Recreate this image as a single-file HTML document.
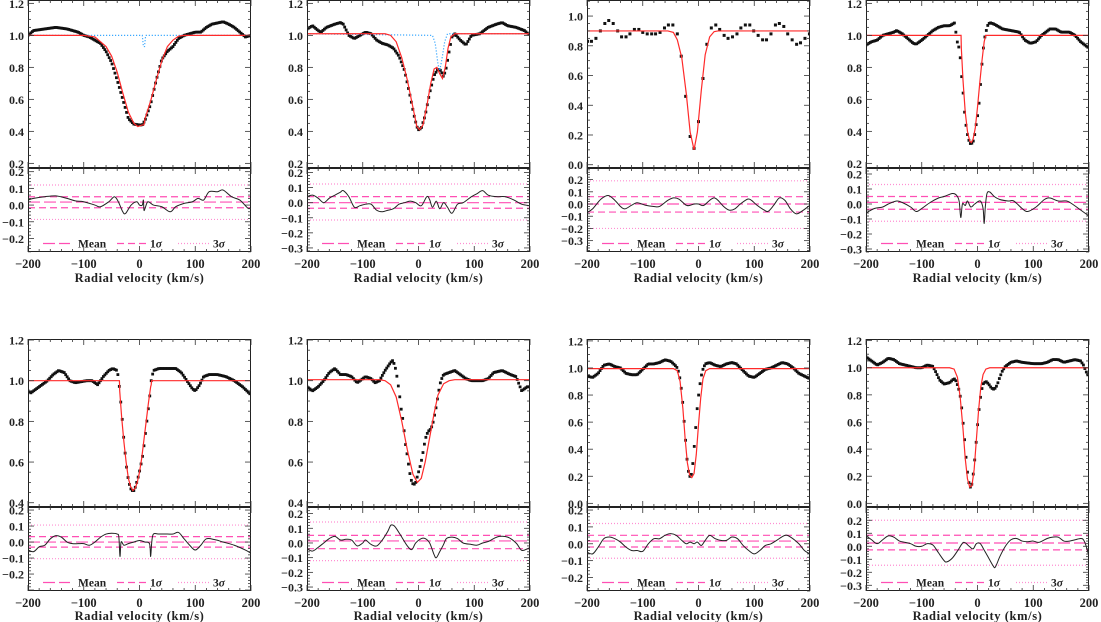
<!DOCTYPE html>
<html><head><meta charset="utf-8">
<style>
html,body{margin:0;padding:0;background:#fff;}
svg{display:block;font-family:"Liberation Serif",serif;}
svg text{font-weight:bold;}
</style></head>
<body>
<svg id="fig" width="1101" height="622" viewBox="0 0 1101 622" xmlns="http://www.w3.org/2000/svg"></svg>
<script>
// ---------- DATA ----------
const xTicks = [-200,-100,0,100,200];
const xTickLabels = ["\u2212200","\u2212100","0","100","200"];

// Panel 1
const p1Obs = [[-200,1.0],[-190,1.03],[-170,1.04],[-150,1.05],[-130,1.04],[-110,1.02],[-100,1.0],[-90,0.99],[-80,0.97],[-70,0.95],[-60,0.90],[-50,0.83],[-40,0.72],[-30,0.60],[-20,0.48],[-10,0.445],[0,0.44],[5,0.44],[10,0.47],[20,0.57],[30,0.72],[40,0.85],[50,0.90],[60,0.93],[70,0.98],[80,1.0],[100,1.02],[110,1.02],[120,1.05],[130,1.07],[150,1.085],[160,1.07],[170,1.05],[180,1.02],[190,0.99],[200,1.0]];
const p1Fit = [[-200,1.0],[-100,1.0],[-80,0.99],[-60,0.93],[-50,0.87],[-40,0.77],[-30,0.64],[-20,0.52],[-10,0.45],[-3,0.43],[5,0.44],[8,0.44],[10,0.48],[20,0.59],[30,0.72],[40,0.84],[50,0.93],[60,0.97],[70,0.995],[80,1.0],[200,1.0]];
const p1Comp = [[-200,1.0],[5,1.0],[7,0.93],[9,0.93],[11,1.0],[200,1.0]];
const p1Res = [[-200,0.03],[-190,0.04],[-170,0.05],[-150,0.055],[-130,0.04],[-115,0.025],[-100,0.02],[-80,0.0],[-70,-0.01],[-55,0.02],[-45,0.05],[-38,0.02],[-30,-0.04],[-25,-0.05],[-15,0.0],[-5,0.02],[0,0.0],[5,0.0],[7,0.03],[8,-0.03],[10,-0.02],[15,0.02],[25,0.0],[40,-0.01],[55,-0.04],[65,-0.01],[80,0.01],[95,0.02],[105,0.04],[115,0.03],[125,0.08],[140,0.08],[150,0.09],[165,0.05],[180,0.03],[195,-0.02],[200,-0.01]];
const p1Stats = [0.018,0.05,-0.016,0.12,-0.086]; // mean, +1s, -1s, +3s, -3s

// Panel 2
const p2Obs = [[-200,1.04],[-190,1.06],[-180,1.03],[-175,1.02],[-165,1.05],[-150,1.07],[-140,1.08],[-135,1.07],[-125,1.0],[-115,0.98],[-105,1.0],[-95,1.02],[-85,1.01],[-75,0.97],[-65,0.95],[-55,0.94],[-45,0.92],[-35,0.87],[-25,0.78],[-15,0.62],[-8,0.50],[-3,0.43],[0,0.41],[5,0.42],[12,0.50],[20,0.64],[28,0.75],[35,0.79],[40,0.78],[45,0.74],[50,0.80],[55,0.90],[60,0.99],[65,1.01],[75,0.97],[85,0.94],[95,1.0],[110,1.01],[125,1.05],[140,1.07],[150,1.08],[160,1.06],[175,1.05],[190,1.03],[200,1.0]];
const p2Fit = [[-200,1.01],[-60,1.01],[-50,1.0],[-40,0.96],[-30,0.86],[-20,0.72],[-10,0.55],[-3,0.43],[2,0.41],[8,0.44],[15,0.56],[22,0.70],[28,0.79],[33,0.80],[38,0.76],[43,0.73],[48,0.80],[53,0.92],[58,0.99],[65,1.01],[200,1.01]];
const p2Comp = [[-200,1.01],[25,1.0],[30,0.95],[35,0.82],[38,0.78],[42,0.85],[47,0.96],[52,1.01],[200,1.01]];
const p2Res = [[-200,0.04],[-190,0.05],[-180,0.03],[-170,0.0],[-160,0.03],[-150,0.05],[-140,0.07],[-135,0.08],[-125,0.04],[-115,-0.03],[-105,-0.02],[-95,-0.01],[-85,-0.01],[-75,-0.05],[-65,-0.06],[-55,-0.05],[-45,-0.04],[-35,-0.01],[-25,0.0],[-15,0.01],[-5,0.0],[5,-0.02],[15,0.04],[20,0.02],[25,-0.03],[32,0.01],[38,-0.04],[45,0.0],[52,-0.03],[60,-0.07],[70,-0.01],[80,0.0],[95,0.04],[105,0.06],[115,0.08],[125,0.05],[140,0.04],[155,0.04],[170,0.02],[185,-0.01],[200,-0.02]];
const p2Stats = [0.0,0.04,-0.037,0.124,-0.115];

// Panel 3 (sparse sampling)
const p3ObsV = [-199,-192,-184,-176,-168,-161,-153,-145,-138,-130,-123,-115,-107,-100,-92,-84,-77,-69,-61,-54,-46,-38,-31,-23,-15,-8,0,8,15,23,31,38,46,53,61,69,76,84,92,99,107,115,122,130,138,145,153,160,168,176,183,191,199];
const p3ObsF = [0.83,0.83,0.85,0.90,0.95,0.97,0.95,0.90,0.86,0.86,0.88,0.91,0.91,0.89,0.88,0.88,0.88,0.89,0.92,0.94,0.94,0.88,0.73,0.46,0.19,0.11,0.29,0.58,0.81,0.92,0.94,0.91,0.87,0.85,0.86,0.88,0.92,0.94,0.94,0.90,0.87,0.84,0.84,0.88,0.94,0.95,0.93,0.88,0.84,0.81,0.82,0.85,0.88];
const p3Fit = [[-200,0.9],[-55,0.9],[-45,0.89],[-38,0.84],[-30,0.72],[-22,0.48],[-15,0.22],[-8,0.10],[-2,0.22],[5,0.5],[12,0.74],[20,0.86],[28,0.895],[35,0.9],[200,0.9]];
const p3Res = [[-200,-0.07],[-190,-0.04],[-175,0.04],[-162,0.07],[-150,0.03],[-140,-0.02],[-132,-0.04],[-120,-0.01],[-110,0.01],[-95,-0.01],[-80,-0.02],[-70,-0.02],[-55,0.03],[-45,0.05],[-35,0.04],[-22,-0.01],[-15,-0.01],[-8,0.0],[0,0.0],[5,-0.01],[10,-0.01],[20,0.03],[28,0.05],[35,0.03],[45,-0.02],[55,-0.05],[65,-0.04],[75,0.0],[88,0.04],[95,0.03],[105,-0.01],[118,-0.05],[125,-0.06],[135,-0.01],[145,0.05],[155,0.03],[165,-0.04],[175,-0.08],[185,-0.06],[200,-0.01]];
const p3Stats = [0.0,0.06,-0.066,0.19,-0.2];

// Panel 4
const p4Obs = [[-200,0.94],[-190,0.96],[-180,0.97],[-170,1.0],[-160,1.01],[-150,1.02],[-145,1.03],[-135,1.01],[-125,0.98],[-115,0.95],[-110,0.945],[-100,0.97],[-90,1.0],[-80,1.03],[-70,1.05],[-60,1.06],[-50,1.06],[-45,1.07],[-40,1.08],[-38,0.98],[-33,0.92],[-30,0.83],[-28,0.72],[-25,0.61],[-23,0.51],[-20,0.42],[-17,0.36],[-14,0.33],[-12,0.32],[-9,0.33],[-6,0.35],[-4,0.41],[-1,0.47],[2,0.54],[4,0.63],[6,0.72],[8,0.82],[10,0.90],[12,0.97],[15,1.02],[18,1.06],[22,1.08],[30,1.07],[45,1.04],[60,1.03],[75,1.02],[85,0.97],[95,0.95],[105,0.96],[115,1.0],[130,1.04],[140,1.04],[150,1.02],[165,1.02],[175,1.0],[185,0.96],[200,0.92]];
const p4Fit = [[-200,1.0],[-29.5,1.0],[-29,0.92],[-26,0.72],[-22,0.52],[-18,0.40],[-14,0.34],[-11,0.33],[-8,0.35],[-4,0.42],[0,0.55],[4,0.70],[8,0.84],[12,0.96],[14,0.99],[14.5,1.0],[200,1.0]];
const p4Res = [[-200,-0.06],[-185,-0.03],[-170,-0.02],[-160,0.0],[-145,0.02],[-135,0.01],[-120,-0.02],[-110,-0.05],[-100,-0.03],[-85,0.01],[-70,0.04],[-60,0.05],[-45,0.07],[-38,0.06],[-33,0.02],[-30,-0.09],[-27,0.0],[-22,-0.01],[-18,0.02],[-12,-0.02],[-5,0.0],[5,0.02],[10,-0.03],[12,-0.13],[14,-0.02],[17,0.07],[22,0.08],[30,0.05],[40,0.03],[55,0.02],[65,0.02],[80,-0.03],[90,-0.05],[105,-0.02],[120,0.03],[130,0.04],[145,0.02],[160,0.02],[170,0.0],[185,-0.04],[200,-0.08]];
const p4Stats = [0.011,0.05,-0.035,0.13,-0.115];

// Panel 5
const p5Obs = [[-200,0.95],[-195,0.94],[-185,0.96],[-175,0.98],[-165,1.0],[-155,1.03],[-145,1.05],[-135,1.04],[-125,1.0],[-115,0.99],[-105,0.995],[-95,1.0],[-85,1.0],[-75,0.98],[-65,1.02],[-55,1.05],[-48,1.06],[-40,1.05],[-37,1.0],[-35,0.93],[-33,0.88],[-31,0.81],[-29,0.74],[-27,0.68],[-25,0.62],[-23,0.57],[-21,0.53],[-19,0.50],[-16,0.47],[-13,0.46],[-10,0.46],[-7,0.48],[-4,0.51],[-1,0.54],[2,0.58],[5,0.62],[8,0.68],[11,0.75],[14,0.82],[17,0.89],[19,0.94],[21,1.0],[25,1.05],[35,1.06],[50,1.06],[65,1.06],[75,1.04],[85,1.0],[95,0.96],[100,0.95],[108,0.98],[115,1.02],[125,1.03],[140,1.03],[155,1.02],[170,1.0],[185,0.97],[200,0.93]];
const p5Fit = [[-200,1.0],[-36,1.0],[-35.5,0.95],[-32,0.82],[-28,0.70],[-24,0.60],[-20,0.52],[-16,0.48],[-12,0.46],[-8,0.47],[-4,0.50],[0,0.55],[4,0.62],[8,0.71],[12,0.80],[16,0.89],[20,0.97],[21,0.98],[21.5,1.0],[200,1.0]];
const p5Res = [[-200,-0.05],[-190,-0.06],[-180,-0.03],[-170,-0.02],[-160,0.02],[-150,0.04],[-140,0.03],[-130,0.0],[-120,-0.01],[-110,-0.01],[-100,-0.01],[-90,-0.02],[-80,0.0],[-70,0.03],[-60,0.05],[-50,0.055],[-40,0.05],[-37,0.03],[-35,-0.09],[-33,0.0],[-28,-0.02],[-20,-0.01],[-10,0.0],[0,0.01],[10,0.0],[18,-0.01],[20,-0.09],[22,0.0],[25,0.05],[35,0.05],[50,0.05],[60,0.05],[70,0.06],[80,0.02],[90,-0.02],[100,-0.05],[110,-0.02],[120,0.02],[135,0.015],[150,0.0],[170,-0.02],[190,-0.05],[200,-0.07]];
const p5Stats = [0.0,0.034,-0.032,0.106,-0.104];

// Panel 6
const p6Obs = [[-200,0.97],[-190,0.95],[-180,0.97],[-170,1.0],[-160,1.04],[-150,1.06],[-140,1.03],[-130,1.03],[-120,1.02],[-110,0.99],[-100,1.01],[-95,1.02],[-85,1.01],[-78,0.99],[-70,1.0],[-60,1.05],[-50,1.09],[-46,1.10],[-42,1.07],[-38,1.01],[-34,0.93],[-31,0.86],[-27,0.79],[-24,0.70],[-20,0.63],[-17,0.57],[-14,0.52],[-11,0.495],[-8,0.49],[-5,0.50],[-2,0.53],[1,0.56],[4,0.59],[7,0.63],[10,0.68],[13,0.72],[17,0.75],[21,0.76],[25,0.78],[28,0.82],[31,0.86],[34,0.91],[37,0.96],[40,1.0],[45,1.03],[55,1.04],[65,1.05],[75,1.03],[85,1.01],[95,1.0],[105,1.0],[115,1.0],[125,1.01],[135,1.04],[150,1.05],[165,1.03],[175,1.02],[185,0.95],[195,0.97],[200,0.97]];
const p6Fit = [[-200,1.005],[-70,1.005],[-60,1.0],[-50,0.98],[-40,0.92],[-30,0.80],[-20,0.66],[-10,0.54],[-2,0.50],[5,0.52],[12,0.60],[20,0.72],[28,0.84],[35,0.93],[45,0.985],[55,1.0],[65,1.005],[200,1.005]];
const p6Res = [[-200,-0.04],[-190,-0.055],[-180,-0.03],[-170,0.0],[-160,0.03],[-150,0.045],[-140,0.02],[-130,0.025],[-120,0.02],[-110,-0.02],[-100,0.0],[-95,0.02],[-85,-0.01],[-75,-0.02],[-65,0.02],[-55,0.08],[-50,0.12],[-45,0.12],[-40,0.10],[-30,0.04],[-20,-0.02],[-12,-0.045],[-5,0.0],[5,0.03],[12,0.03],[20,0.0],[28,-0.08],[32,-0.10],[38,-0.06],[45,-0.01],[50,0.03],[60,0.04],[70,0.03],[80,0.0],[95,-0.01],[105,-0.015],[115,0.0],[125,0.01],[135,0.03],[145,0.045],[160,0.04],[175,0.0],[185,-0.05],[195,-0.04],[200,-0.03]];
const p6Stats = [0.014,0.052,-0.039,0.143,-0.12];

// Panel 7
const p7Obs = [[-200,0.94],[-190,0.93],[-180,0.96],[-170,1.02],[-160,1.03],[-150,1.01],[-140,1.0],[-130,0.96],[-120,0.95],[-110,0.95],[-100,0.99],[-90,1.03],[-80,1.03],[-70,1.04],[-60,1.06],[-50,1.05],[-42,1.02],[-38,1.0],[-35,0.96],[-32,0.89],[-30,0.81],[-27,0.69],[-25,0.55],[-22,0.41],[-20,0.29],[-17,0.21],[-14,0.19],[-11,0.25],[-9,0.36],[-6,0.49],[-4,0.63],[-1,0.76],[2,0.86],[4,0.92],[7,0.98],[12,1.03],[20,1.04],[30,1.02],[40,1.01],[50,1.03],[60,1.04],[68,1.03],[80,0.98],[90,0.94],[100,0.93],[110,0.96],[120,0.99],[130,1.0],[140,1.02],[150,1.04],[160,1.03],[170,1.0],[180,0.96],[190,0.94],[200,0.92]];
const p7Fit = [[-200,0.995],[-45,0.995],[-38,0.98],[-33,0.90],[-28,0.70],[-24,0.48],[-20,0.30],[-16,0.21],[-12,0.19],[-8,0.22],[-4,0.36],[0,0.58],[4,0.78],[8,0.92],[13,0.98],[20,0.995],[200,0.995]];
const p7Res = [[-200,-0.05],[-190,-0.06],[-180,-0.02],[-170,0.03],[-160,0.04],[-150,0.03],[-140,0.01],[-130,-0.02],[-120,-0.04],[-110,-0.04],[-100,-0.045],[-90,0.0],[-80,0.03],[-70,0.03],[-60,0.05],[-50,0.06],[-40,0.05],[-30,0.02],[-22,0.0],[-15,0.01],[-8,0.0],[-2,0.01],[5,-0.01],[12,0.02],[20,0.05],[30,0.03],[40,0.02],[50,0.02],[60,0.04],[70,0.03],[80,-0.01],[90,-0.04],[100,-0.06],[110,-0.04],[120,-0.01],[130,0.0],[140,0.02],[155,0.05],[165,0.04],[180,0.0],[190,-0.04],[200,-0.06]];
const p7Stats = [0.016,0.05,-0.019,0.12,-0.086];

// Panel 8
const p8Obs = [[-200,1.08],[-190,1.05],[-180,1.02],[-170,1.04],[-160,1.07],[-150,1.06],[-140,1.03],[-130,1.02],[-120,1.01],[-110,1.0],[-100,1.0],[-90,1.02],[-80,1.01],[-75,0.97],[-68,0.91],[-60,0.88],[-50,0.89],[-42,0.92],[-38,0.90],[-35,0.86],[-32,0.82],[-29,0.73],[-26,0.60],[-23,0.46],[-20,0.31],[-17,0.19],[-14,0.12],[-11,0.12],[-8,0.20],[-5,0.32],[-2,0.47],[1,0.62],[4,0.74],[7,0.83],[10,0.88],[15,0.90],[20,0.88],[25,0.85],[30,0.84],[35,0.87],[40,0.93],[45,0.98],[50,1.01],[60,1.04],[70,1.05],[80,1.04],[100,1.03],[115,1.03],[125,1.04],[135,1.06],[145,1.06],[155,1.04],[165,1.05],[175,1.06],[185,1.05],[190,1.02],[195,0.97],[200,0.93]];
const p8Fit = [[-200,1.0],[-50,1.0],[-42,0.99],[-36,0.93],[-31,0.78],[-26,0.55],[-22,0.33],[-18,0.18],[-14,0.12],[-10,0.13],[-6,0.25],[-2,0.47],[2,0.69],[6,0.86],[10,0.95],[15,0.99],[22,1.0],[200,1.0]];
const p8Res = [[-200,0.08],[-190,0.05],[-180,0.02],[-170,0.05],[-160,0.08],[-150,0.07],[-140,0.04],[-130,0.03],[-120,0.02],[-110,0.0],[-100,0.0],[-90,0.02],[-80,0.01],[-70,-0.05],[-60,-0.11],[-55,-0.12],[-45,-0.09],[-35,-0.03],[-25,0.03],[-15,0.0],[-8,-0.02],[-2,0.02],[5,0.02],[12,-0.03],[20,-0.09],[28,-0.15],[32,-0.16],[40,-0.08],[50,0.0],[60,0.05],[70,0.06],[80,0.04],[90,0.035],[100,0.04],[110,0.03],[125,0.06],[135,0.07],[145,0.07],[155,0.04],[165,0.04],[175,0.05],[185,0.06],[190,0.05],[195,0.0],[200,-0.08]];
const p8Stats = [0.025,0.085,-0.028,0.2,-0.146];

// Axis ranges and tick values (data units)
const upperRanges = [[0.171,1.221],[0.171,1.221],[-0.022,1.108],[0.171,1.221],[0.379,1.205],[0.379,1.205],[-0.027,1.214],[-0.027,1.212]];
const lowerRanges = [[-0.281,0.222],[-0.327,0.230],[-0.393,0.295],[-0.32,0.24],[-0.306,0.219],[-0.327,0.245],[-0.28,0.218],[-0.344,0.302]];
const upperTicks = [[0.2,0.4,0.6,0.8,1.0,1.2],[0.2,0.4,0.6,0.8,1.0,1.2],[0.0,0.2,0.4,0.6,0.8,1.0],[0.2,0.4,0.6,0.8,1.0,1.2],[0.4,0.6,0.8,1.0,1.2],[0.4,0.6,0.8,1.0,1.2],[0.0,0.2,0.4,0.6,0.8,1.0,1.2],[0.0,0.2,0.4,0.6,0.8,1.0,1.2]];
const lowerTicks = [[-0.2,-0.1,0.0,0.1,0.2],[-0.3,-0.2,-0.1,0.0,0.1,0.2],[-0.3,-0.2,-0.1,0.0,0.1,0.2],[-0.3,-0.2,-0.1,0.0,0.1,0.2],[-0.2,-0.1,0.0,0.1,0.2],[-0.3,-0.2,-0.1,0.0,0.1,0.2],[-0.2,-0.1,0.0,0.1,0.2],[-0.3,-0.2,-0.1,0.0,0.1,0.2]];

// ---------- RENDERING ----------
const NS = "http://www.w3.org/2000/svg";
const svg = document.getElementById('fig');
function mk(tag, parent){ const e=document.createElementNS(NS,tag); parent.appendChild(e); return e; }
function fmt(v){ return (v<0?"\u2212":"")+Math.abs(v).toFixed(1); }
function lerp(arr, v){
  for(let i=0;i<arr.length-1;i++){ if(v>=arr[i][0] && v<=arr[i+1][0]){ const t=(v-arr[i][0])/((arr[i+1][0]-arr[i][0])||1); return arr[i][1]+t*(arr[i+1][1]-arr[i][1]); } }
  return arr[arr.length-1][1];
}
function smoothPath(pts){
  let d="M"+pts[0][0].toFixed(2)+","+pts[0][1].toFixed(2);
  for(let i=0;i<pts.length-1;i++){
    const p0=pts[Math.max(0,i-1)],p1=pts[i],p2=pts[i+1],p3=pts[Math.min(pts.length-1,i+2)];
    const c1=[p1[0]+(p2[0]-p0[0])/6,p1[1]+(p2[1]-p0[1])/6];
    const c2=[p2[0]-(p3[0]-p1[0])/6,p2[1]-(p3[1]-p1[1])/6];
    d+=" C"+c1[0].toFixed(2)+","+c1[1].toFixed(2)+" "+c2[0].toFixed(2)+","+c2[1].toFixed(2)+" "+p2[0].toFixed(2)+","+p2[1].toFixed(2);
  }
  return d;
}

const colX = [28,307,587,866];
const rowY = [0,339];
const PW = 223, UH = 168, LH = 84;
const PINK = "#ff4fb4", PINK3 = "#ff8fd2";

const panels = [
  {obs:p1Obs, fit:p1Fit, comp:p1Comp, res:p1Res, st:p1Stats},
  {obs:p2Obs, fit:p2Fit, comp:p2Comp, res:p2Res, st:p2Stats},
  {obs:null,  fit:p3Fit, comp:null,  res:p3Res, st:p3Stats},
  {obs:p4Obs, fit:p4Fit, comp:null,  res:p4Res, st:p4Stats},
  {obs:p5Obs, fit:p5Fit, comp:null,  res:p5Res, st:p5Stats},
  {obs:p6Obs, fit:p6Fit, comp:null,  res:p6Res, st:p6Stats},
  {obs:p7Obs, fit:p7Fit, comp:null,  res:p7Res, st:p7Stats},
  {obs:p8Obs, fit:p8Fit, comp:null,  res:p8Res, st:p8Stats}
];

panels.forEach((P, k)=>{
  const c = k%4, r = Math.floor(k/4);
  const x0 = colX[c], yT = rowY[r], yM = yT+UH, yB = yM+LH;
  const xs = v => x0 + (v+200)/400*PW;
  const [uMin,uMax] = upperRanges[k], [lMin,lMax] = lowerRanges[k];
  const yu = f => yT + (uMax-f)/(uMax-uMin)*UH;
  const yl = f => yM + (lMax-f)/(lMax-lMin)*LH;

  const g = mk('g', svg);
  
  

  const defs = mk('defs', g);
  const cu = mk('clipPath', defs); cu.setAttribute('id','cu'+k);
  const cur = mk('rect', cu); cur.setAttribute('x',x0); cur.setAttribute('y',yT); cur.setAttribute('width',PW); cur.setAttribute('height',UH);
  const cl = mk('clipPath', defs); cl.setAttribute('id','cl'+k);
  const clr = mk('rect', cl); clr.setAttribute('x',x0); clr.setAttribute('y',yM); clr.setAttribute('width',PW); clr.setAttribute('height',LH);

  // ---- upper panel ----
  const up = mk('g', g); up.setAttribute('clip-path','url(#cu'+k+')');
  
  

  if(P.obs){
    const od = mk('g', up);
    
    
    for(let v=-200; v<=200.01; v+=2.6){
      const s = mk('rect', od);
      s.setAttribute('x',(xs(v)-1.4).toFixed(2)); s.setAttribute('y',(yu(lerp(P.obs,v))-1.4).toFixed(2));
      s.setAttribute('width',2.8); s.setAttribute('height',2.8); s.setAttribute('fill','#111');
    }
  } else {
    const od = mk('g', up);
    
    
    p3ObsV.forEach((v,i)=>{
      const s = mk('rect', od);
      s.setAttribute('x',(xs(v)-1.5).toFixed(2)); s.setAttribute('y',(yu(p3ObsF[i])-1.5).toFixed(2));
      s.setAttribute('width',3); s.setAttribute('height',3); s.setAttribute('fill','#111');
    });
  }
  if(P.comp){
    const cp = mk('polyline', up);
    
    
    cp.setAttribute('points', P.comp.map(p=>xs(p[0]).toFixed(2)+","+yu(p[1]).toFixed(2)).join(" "));
    cp.setAttribute('fill','none'); cp.setAttribute('stroke','#3aa8ff'); cp.setAttribute('stroke-width','1.2'); cp.setAttribute('stroke-dasharray','1.2 1.8');
  }
  const fp = mk('polyline', up);
  
  
  fp.setAttribute('points', P.fit.map(p=>xs(p[0]).toFixed(2)+","+yu(p[1]).toFixed(2)).join(" "));
  fp.setAttribute('fill','none'); fp.setAttribute('stroke','#ff2a2a'); fp.setAttribute('stroke-width','1.2');

  // ---- lower panel ----
  const lo = mk('g', g); lo.setAttribute('clip-path','url(#cl'+k+')');
  
  
  const st = P.st;
  const hl = (val, dash, col, w, name)=>{
    const l = mk('line', lo);
    
    
    l.setAttribute('x1',x0); l.setAttribute('x2',x0+PW); l.setAttribute('y1',yl(val)); l.setAttribute('y2',yl(val));
    l.setAttribute('stroke',col); l.setAttribute('stroke-width',w); l.setAttribute('stroke-dasharray',dash);
  };
  hl(st[0], "12 4", PINK, 1.2, 'mean-line');
  hl(st[1], "7 4", PINK, 1.2, 'sigma1-upper');
  hl(st[2], "7 4", PINK, 1.2, 'sigma1-lower');
  hl(st[3], "1 2", PINK3, 1.2, 'sigma3-upper');
  hl(st[4], "1 2", PINK3, 1.2, 'sigma3-lower');
  const rp = mk('path', lo);
  
  
  rp.setAttribute('d', smoothPath(P.res.map(p=>[xs(p[0]), yl(p[1])])));
  rp.setAttribute('fill','none'); rp.setAttribute('stroke','#222'); rp.setAttribute('stroke-width','1');

  // legend
  const lg = mk('g', g);
  
  
  const ly = yB - 8.5;
  const legItems = [[15,42,"12 4",PINK,"Mean",50],[89,119,"7 4",PINK,"1σ",122],[150,182,"1 2",PINK3,"3σ",185]];
  legItems.forEach(it=>{
    const l = mk('line', lg);
    
    
    l.setAttribute('x1',x0+it[0]); l.setAttribute('x2',x0+it[1]); l.setAttribute('y1',ly); l.setAttribute('y2',ly);
    l.setAttribute('stroke',it[3]); l.setAttribute('stroke-width',1.3); l.setAttribute('stroke-dasharray',it[2]);
    const t = mk('text', lg);
    
    
    t.setAttribute('x',x0+it[5]); t.setAttribute('y',ly+4); t.setAttribute('font-size','11.5'); t.setAttribute('fill','#222');
    if(it[4]==="Mean"){ t.textContent="Mean"; }
    else { t.textContent=it[4][0]; const ts=mk('tspan',t); ts.setAttribute('font-style','italic'); ts.textContent="σ"; }
  });

  // frames
  const fr = mk('g', g);
  
  
  [[yT,UH],[yM,LH]].forEach(b=>{
    const rc = mk('rect', fr);
    rc.setAttribute('x',x0+0.5); rc.setAttribute('y',b[0]+0.5); rc.setAttribute('width',PW-1); rc.setAttribute('height',b[1]-1);
    rc.setAttribute('fill','none'); rc.setAttribute('stroke','#222'); rc.setAttribute('stroke-width','1');
  });
  for(let v=-200; v<=200; v+=20){
    const major = (v%100===0);
    const len = major?6:3;
    [[yT,1],[yM,-1],[yM,1],[yB,-1]].forEach(e=>{
      const t = mk('line', fr);
      t.setAttribute('x1',xs(v)); t.setAttribute('x2',xs(v)); t.setAttribute('y1',e[0]); t.setAttribute('y2',e[0]+e[1]*len);
      t.setAttribute('stroke','#333'); t.setAttribute('stroke-width','0.8');
    });
  }
  const yTicksDraw = (mn,mx,step,majStep,map,top,bot)=>{
    for(let v=Math.ceil(mn/step)*step; v<=mx+1e-9; v+=step){
      const yy = map(v); if(yy<top||yy>bot) continue;
      const major = Math.abs(v/majStep-Math.round(v/majStep))<1e-6;
      const len = major?6:3;
      [[x0,1],[x0+PW,-1]].forEach(e=>{
        const t = mk('line', fr);
        t.setAttribute('x1',e[0]); t.setAttribute('x2',e[0]+e[1]*len); t.setAttribute('y1',yy); t.setAttribute('y2',yy);
        t.setAttribute('stroke','#333'); t.setAttribute('stroke-width','0.8');
      });
    }
  };
  yTicksDraw(uMin,uMax,0.05,0.2,yu,yT,yM);
  yTicksDraw(lMin,lMax,0.02,0.1,yl,yM,yB);

  const yl1 = mk('g', g);
  
  
  upperTicks[k].forEach(v=>{
    const t = mk('text', yl1);
    t.setAttribute('x',x0-4); t.setAttribute('y',yu(v)+4.5); t.setAttribute('text-anchor','end');
    t.setAttribute('font-size','12'); t.setAttribute('fill','#222'); t.textContent = fmt(v);
  });
  lowerTicks[k].forEach(v=>{
    const t = mk('text', yl1);
    t.setAttribute('x',x0-4); t.setAttribute('y',yl(v)+4.5); t.setAttribute('text-anchor','end');
    t.setAttribute('font-size','12'); t.setAttribute('fill','#222'); t.textContent = fmt(v);
  });
  const xl = mk('g', g);
  
  
  xTicks.forEach((v,i)=>{
    const t = mk('text', xl);
    t.setAttribute('x',xs(v)); t.setAttribute('y',yB+16); t.setAttribute('text-anchor','middle');
    t.setAttribute('font-size','12.5'); t.setAttribute('fill','#222'); t.textContent = xTickLabels[i];
  });
  const xt = mk('text', g);
  
  
  xt.setAttribute('x',x0+PW/2); xt.setAttribute('y',Math.min(yB+30,620)); xt.setAttribute('text-anchor','middle');
  xt.setAttribute('font-size','12.5'); xt.setAttribute('fill','#222'); xt.setAttribute('letter-spacing','0.6');
  xt.textContent = "Radial velocity (km/s)";
});
</script>
</body></html>
